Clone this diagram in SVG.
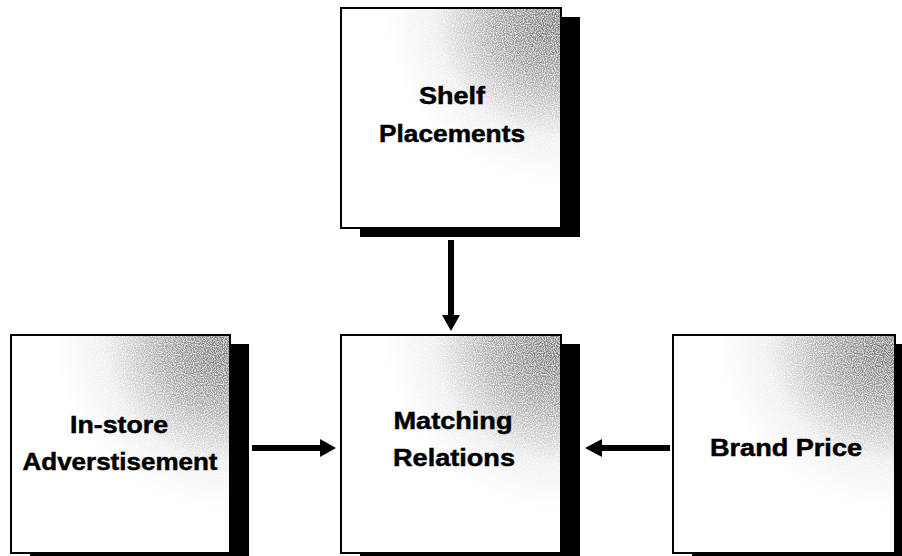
<svg xmlns="http://www.w3.org/2000/svg" width="902" height="556" viewBox="0 0 902 556">
  <style>
    .shadow { fill: #000; }
    .box { stroke: #000; stroke-width: 2; }
    .bg { fill: #fff; }
    .label { font-family: "Liberation Sans", Arial, sans-serif; font-weight: bold; font-size: 24px; fill: #000; stroke: #000; stroke-width: 0.5; text-anchor: middle; }
    .conn { stroke: #000; stroke-width: 6; fill: none; }
    .head { fill: #000; }
  </style>
  <defs>
    <radialGradient id="shade" cx="1" cy="0" r="0.8" fx="0.95" fy="0.08">
      <stop offset="0" stop-color="#7a7a7a"/>
      <stop offset="0.35" stop-color="#aaaaaa"/>
      <stop offset="0.7" stop-color="#eeeeee"/>
      <stop offset="1" stop-color="#ffffff"/>
    </radialGradient>
    <filter id="grain" x="0" y="0" width="1" height="1">
      <feTurbulence type="fractalNoise" baseFrequency="0.9" numOctaves="1" seed="3" result="n"/>
      <feColorMatrix in="n" type="matrix" values="0 0 0 0 1  0 0 0 0 1  0 0 0 0 1  0 0 0 -2.2 1.35" result="w"/>
      <feComposite in="w" in2="SourceGraphic" operator="in" result="wm"/>
      <feMerge><feMergeNode in="SourceGraphic"/><feMergeNode in="wm"/></feMerge>
    </filter>
  </defs>

  <g id="shelf-placements">
    <rect class="shadow" x="360" y="17" width="220" height="220"/>
    <rect class="bg" x="341" y="8" width="220" height="220"/>
    <rect x="341" y="8" width="220" height="220" fill="url(#shade)" filter="url(#grain)"/>
    <rect class="box" x="341" y="8" width="220" height="220" fill="none"/>
    <text class="label" x="452" y="104" textLength="66" lengthAdjust="spacingAndGlyphs">Shelf</text>
    <text class="label" x="452" y="142" textLength="146" lengthAdjust="spacingAndGlyphs">Placements</text>
  </g>

  <g id="in-store-advertisement">
    <rect class="shadow" x="30" y="344" width="219" height="218"/>
    <rect class="bg" x="11" y="335" width="219" height="218"/>
    <rect x="11" y="335" width="219" height="218" fill="url(#shade)" filter="url(#grain)"/>
    <rect class="box" x="11" y="335" width="219" height="218" fill="none"/>
    <text class="label" x="119" y="433" textLength="98" lengthAdjust="spacingAndGlyphs">In-store</text>
    <text class="label" x="120" y="470" textLength="195" lengthAdjust="spacingAndGlyphs">Adverstisement</text>
  </g>

  <g id="matching-relations">
    <rect class="shadow" x="360" y="344" width="220" height="218"/>
    <rect class="bg" x="341" y="335" width="220" height="218"/>
    <rect x="341" y="335" width="220" height="218" fill="url(#shade)" filter="url(#grain)"/>
    <rect class="box" x="341" y="335" width="220" height="218" fill="none"/>
    <text class="label" x="453" y="429" textLength="119" lengthAdjust="spacingAndGlyphs">Matching</text>
    <text class="label" x="454" y="466" textLength="122" lengthAdjust="spacingAndGlyphs">Relations</text>
  </g>

  <g id="brand-price">
    <rect class="shadow" x="692" y="344" width="222" height="218"/>
    <rect class="bg" x="673" y="335" width="222" height="218"/>
    <rect x="673" y="335" width="222" height="218" fill="url(#shade)" filter="url(#grain)"/>
    <rect class="box" x="673" y="335" width="222" height="218" fill="none"/>
    <text class="label" x="786" y="456" textLength="152" lengthAdjust="spacingAndGlyphs">Brand Price</text>
  </g>

  <g id="connectors">
    <line class="conn" x1="451" y1="240" x2="451" y2="316"/>
    <polygon class="head" points="442,315 460,315 451,331"/>
    <line class="conn" x1="252" y1="448" x2="321" y2="448"/>
    <polygon class="head" points="320,439 320,457 336,448"/>
    <line class="conn" x1="670" y1="448" x2="601" y2="448"/>
    <polygon class="head" points="602,439 602,457 585,448"/>
  </g>
</svg>
